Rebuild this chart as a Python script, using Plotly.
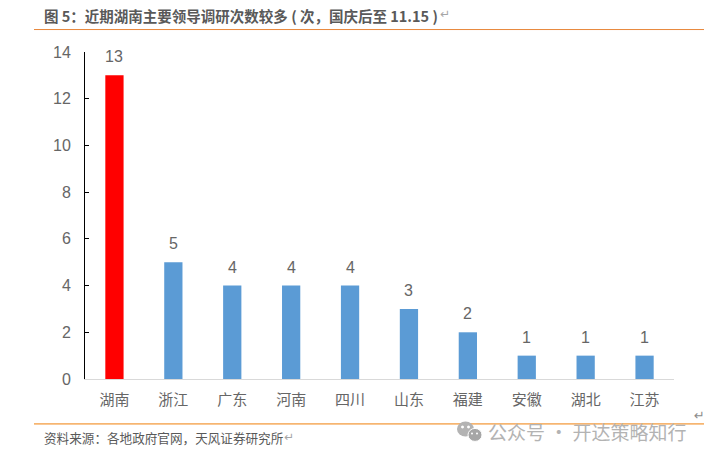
"""近期湖南主要领导调研次数柱状图."""

import plotly.graph_objects as go

WIDTH = 708
HEIGHT = 460
LEFT, RIGHT, TOP, BOTTOM = 85, 674, 52, 379.5

provinces = ["湖南", "浙江", "广东", "河南", "四川", "山东", "福建", "安徽", "湖北", "江苏"]
visits = [13, 5, 4, 4, 4, 3, 2, 1, 1, 1]
bar_colors = ["#ff0000"] + ["#5b9bd5"] * 9
y_ticks = [0, 2, 4, 6, 8, 10, 12, 14]

GRAY = "#666666"
SANS = "Liberation Sans, Arial, sans-serif"
CJK = "Noto Sans CJK SC, sans-serif"


def px(x):
    return (x - LEFT) / (RIGHT - LEFT)


def py(y):
    return (BOTTOM - y) / (BOTTOM - TOP)


def label(x, y, text, size, color=GRAY, family=CJK, anchor="left"):
    return dict(
        xref="paper", yref="paper", x=px(x), y=py(y), text=text, showarrow=False,
        xanchor=anchor, yanchor="middle", align="left", borderpad=0,
        font=dict(size=size, color=color, family=family),
    )


def dot(x0, x1, y0, y1, color, **kwargs):
    return dict(type="circle", xref="paper", yref="paper", x0=px(x0), x1=px(x1),
                y0=py(y0), y1=py(y1), fillcolor=color, **kwargs)


fig = go.Figure(go.Bar(x=provinces, y=visits, marker_color=bar_colors, marker_line_width=0))

annotations = [
    dict(
        x=p, y=v, text=str(v), showarrow=False, yanchor="bottom", yshift=8,
        font=dict(size=16, color=GRAY, family=SANS),
    )
    for p, v in zip(provinces, visits)
]
annotations += [
    label(43, 15, "<b>图 5：近期湖南主要领导调研次数较多 ( 次，国庆后至 11.15 )</b>", 14.5, color="#595959"),
    label(439, 14, "↵", 12, color="#a6a6a6", family="DejaVu Sans"),
    label(43, 438, "资料来源：各地政府官网，天风证券研究所", 12.6, color="#595959"),
    label(283, 438, "↵", 12, color="#a6a6a6", family="DejaVu Sans"),
    label(693, 416, "↵", 13, color="#8c8c8c", family="DejaVu Sans"),
    label(487, 432, "公众号 · 开达策略知行", 19, color="#b3b3b3"),
]

shapes = [
    dict(type="line", xref="paper", yref="paper", x0=px(34), x1=px(704), y0=py(29.5), y1=py(29.5),
         line=dict(color="#e8873a", width=1)),
    dict(type="line", xref="paper", yref="paper", x0=px(34), x1=px(704), y0=py(424.5), y1=py(424.5),
         line=dict(color="#f07f09", width=1)),
    # 水印的微信图标
    dot(457, 474, 422, 437, "#b3b3b3", line_width=0),
    dot(468, 482, 429, 442, "#a6a6a6", line=dict(color="white", width=1)),
    dot(461, 464, 426, 429, "white", line_width=0),
    dot(467, 470, 426, 429, "white", line_width=0),
    dot(471, 473, 433, 435, "white", line_width=0),
    dot(476, 478, 433, 435, "white", line_width=0),
]

fig.update_layout(
    width=WIDTH,
    height=HEIGHT,
    margin=dict(l=LEFT, r=WIDTH - RIGHT, t=TOP, b=HEIGHT - BOTTOM, pad=0),
    paper_bgcolor="white",
    plot_bgcolor="white",
    showlegend=False,
    bargap=0.69,
    annotations=annotations,
    shapes=shapes,
)
fig.update_xaxes(
    showgrid=False, showline=True, linecolor="#d9d9d9", linewidth=1, ticks="",
    tickfont=dict(size=15, color=GRAY, family=CJK), ticklabelstandoff=7,
)
fig.update_yaxes(
    range=[0, 14], tickvals=y_ticks, showgrid=False, zeroline=False, showline=True,
    linecolor="black", linewidth=1, ticks="inside", ticklen=4, tickcolor="black",
    tickfont=dict(size=16, color=GRAY, family=SANS), ticklabelstandoff=10,
)

fig.write_html(
    "out.html",
    config={"displayModeBar": False},
    post_script="document.body.style.margin = '0';",
)
